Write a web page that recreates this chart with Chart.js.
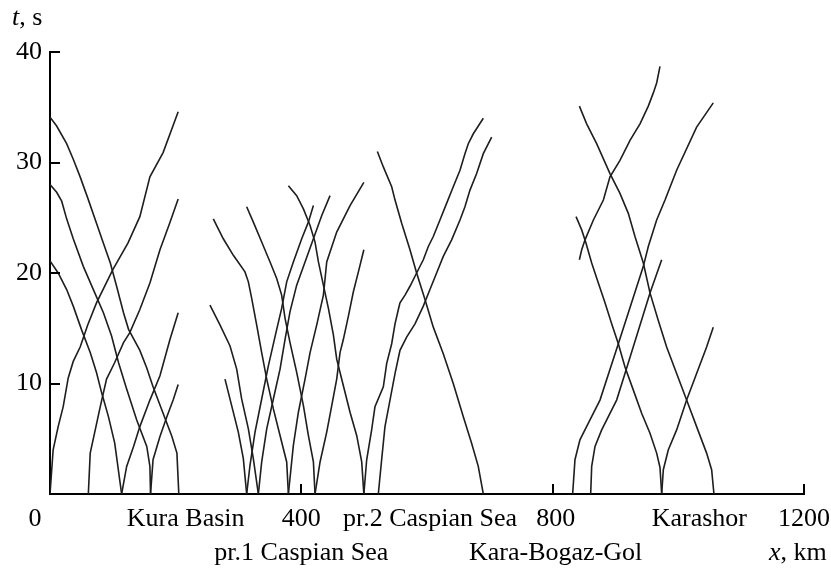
<!DOCTYPE html>
<html>
<head>
<meta charset="utf-8">
<script src="https://cdn.jsdelivr.net/npm/chart.js@4.4.0/dist/chart.umd.min.js"></script>
<style>
  body { margin: 0; background: #fff; }
  canvas { display: block; }
</style>
</head>
<body>
<canvas id="chart" width="831" height="568"></canvas>
<script>
// axis ticks
const xTickValues = [0, 200, 400, 600, 800, 1000, 1200];
const xTickLabels = ['0', 'Kura Basin', '400', 'pr.2 Caspian Sea', '800', 'Karashor', '1200'];
const xSubLabels = ['', '', 'pr.1 Caspian Sea', '', 'Kara-Bogaz-Gol', '', ''];
const xMarkedTicks = [400, 800, 1200];
const yTickValues = [10, 20, 30, 40];

// travel-time curves [x km, t s]
// Kura Basin
const kuraDown1 = [[0,34.1],[10.6,33.3],[26.5,31.7],[37,30.3],[48,28.7],[60,26.8],[74,24.5],[85,22.7],[96,20.9],[106,18.8],[117,16.4],[125,14.9],[143,13.0],[154,11.4],[164,9.7],[180,7.3],[194,5.2],[202,3.7],[205,0]];
const kuraDown2 = [[0,28.0],[10.6,27.3],[18.6,26.5],[26.5,24.9],[37,23.1],[53,20.6],[69,18.5],[85,16.4],[98,14.3],[109,11.9],[122,9.5],[138,6.7],[154,4.3],[159,2.5],[160,0]];
const kuraDown3 = [[0,21.1],[13,20.0],[26.5,18.5],[37,17.0],[50,14.9],[64,12.8],[74,11.0],[82,9.2],[93,7.0],[103,4.6],[114,0]];
const kuraUp1 = [[0,0],[5,4.0],[13,6.1],[21,7.9],[29,10.5],[37,12.0],[48,13.3],[60,15.3],[74,17.3],[100,20.3],[124,22.7],[143,25.1],[159,28.7],[180,30.9],[204,34.6]];
const kuraUp2 = [[61,0],[64,3.7],[72,5.8],[80,7.9],[90,10.4],[103,11.9],[117,13.7],[127,14.6],[143,16.7],[159,19.1],[175,22.1],[191,24.6],[204,26.7]];
const kuraUp3 = [[114,0],[122,2.5],[133,4.3],[143,6.1],[159,8.5],[175,10.7],[191,14.0],[204,16.4]];
const kuraUp4 = [[160,0],[164,3.1],[175,5.2],[186,7.0],[196,8.5],[204,9.9]];

// pr.1 Caspian Sea
const pr1Down1 = [[254.6,17.1],[270.5,15.3],[286.5,13.4],[297.1,11.3],[305,8.6],[315.7,5.9],[323.6,3.2],[331.6,0]];
const pr1Down2 = [[278.5,10.4],[289.1,8.0],[299.7,5.6],[307.7,3.2],[313,0]];
const pr1Down3 = [[259.9,24.9],[275.8,23.1],[291.8,21.6],[310.3,20.1],[315.7,19.2],[321,17.7],[328.9,15.3],[336.9,12.8],[344.9,10.4],[355.5,7.7],[366.1,5.3],[376.7,2.9],[379.4,0]];
const pr1Down4 = [[313,26.0],[323.6,24.6],[336.9,22.8],[350.2,21.0],[360.8,19.5],[368.7,18.0],[374.1,15.9],[382,13.7],[392.6,11.0],[403.3,8.0],[411.2,5.3],[419.2,2.9],[421.8,0]];
const pr1Down5 = [[379.4,27.9],[392.6,27.0],[403.3,25.8],[413.9,24.3],[421.8,22.8],[427.2,21.0],[435.1,18.9],[443.1,16.8],[451,14.4],[456.3,12.2],[466.9,9.8],[477.5,7.4],[488.1,5.3],[496.1,2.9],[499.5,0]];
const pr1Up1 = [[313,0],[318.3,2.6],[326.3,5.6],[336.9,8.6],[347.5,11.6],[360.8,14.9],[368.7,16.8],[376.7,19.2],[387.3,21.0],[400.6,23.1],[411.2,24.6],[419.2,26.1]];
const pr1Up2 = [[331.6,0],[336.9,2.9],[344.9,5.9],[355.5,8.6],[366.1,11.3],[374.1,14.0],[382,16.5],[392.6,18.9],[405.9,21.0],[419.2,23.1],[432.5,25.2],[445.7,27.0]];
const pr1Up3 = [[379.4,0],[387.3,4.4],[395.3,7.4],[405.9,10.4],[413.9,12.8],[424.5,15.3],[435.1,18.0],[437.8,19.5],[440.4,21.0],[456.3,23.7],[477.5,26.1],[499.5,28.2]];
const pr1Up4 = [[421.8,0],[429.8,2.9],[440.4,5.6],[448.4,8.0],[456.3,10.4],[461.6,12.8],[466.9,14.0],[474.9,16.1],[482.8,18.3],[490.8,20.1],[499.5,22.1]];

// pr.2 Caspian Sea
const pr2Down1 = [[521,31.0],[530.5,29.6],[543.8,27.8],[549.1,26.6],[559.7,24.5],[572.9,22.1],[583.5,20.0],[596.8,17.6],[610,15.1],[625.9,12.7],[641.8,10.0],[657.8,7.0],[671,4.6],[681.6,2.5],[689.6,0]];
const pr2Up1 = [[499.5,0],[504,3.1],[511.9,5.8],[517.2,7.9],[530.5,9.7],[535.8,11.8],[543.8,13.6],[549.1,15.4],[554.4,16.7],[557,17.3],[565,18.0],[572.9,18.8],[583.5,20.0],[594.1,21.2],[602.1,22.4],[610,23.3],[620.6,24.8],[631.2,26.3],[641.8,27.8],[652.5,29.3],[660.4,30.8],[665.7,31.7],[673.7,32.6],[689.6,34.0]];
const pr2Up2 = [[522.5,0],[527.8,3.1],[533.1,6.1],[541.1,8.5],[549.1,10.9],[557,13.0],[567.6,14.2],[580.9,15.4],[594.1,17.0],[604.7,18.5],[615.3,20.0],[625.9,21.5],[639.2,23.0],[652.5,24.8],[660.4,26.0],[668.4,27.5],[679,29.0],[689.6,30.8],[702.9,32.3]];

// Karashor
const karaDown1 = [[842.5,35.1],[854.1,33.5],[870,31.7],[891.2,29.0],[907.1,27.2],[920.4,25.4],[931,23.3],[944.3,20.9],[954.9,18.2],[968.1,15.7],[981.4,13.3],[997.3,10.9],[1013.2,8.5],[1029.1,6.1],[1045,3.7],[1053,2.2],[1056.7,0]];
const karaDown2 = [[837.2,25.1],[846.2,23.9],[853.1,22.7],[862.1,20.9],[872.7,19.1],[883.3,17.3],[893.9,15.4],[904.5,13.6],[915.1,11.5],[928.4,9.4],[941.6,7.3],[954.9,5.5],[965.5,3.7],[970.8,2.4],[973.5,0]];
const karaUp1 = [[831.8,0],[835.5,3.1],[843.4,4.9],[859.4,6.7],[875.3,8.5],[904.5,13.6],[944.3,20.6],[952.2,22.4],[965.5,24.8],[978.8,26.6],[997.3,29.3],[1029.1,33.2],[1055.6,35.4]];
const karaUp2 = [[860.5,0],[862.1,2.5],[867.4,4.3],[878,5.8],[891.2,7.3],[901.8,8.5],[916.7,11.2],[954.9,18.2],[973.5,21.2]];
const karaUp3 = [[842.5,21.2],[846.2,22.1],[851.5,23.0],[864.8,24.8],[880.7,26.6],[891.2,28.7],[907.1,30.2],[923.1,32.0],[939,33.5],[952.2,35.1],[960.2,36.3],[965.5,37.2],[970.8,38.7]];
const karaUp4 = [[973.5,0],[976.1,2.2],[984.1,4.0],[997.3,5.8],[1013.2,8.5],[1029.1,10.9],[1045,13.3],[1055.6,15.1]];

const curves = [
  kuraDown1, kuraDown2, kuraDown3, kuraUp1, kuraUp2, kuraUp3, kuraUp4,
  pr1Down1, pr1Down2, pr1Down3, pr1Down4, pr1Down5, pr1Up1, pr1Up2, pr1Up3, pr1Up4,
  pr2Down1, pr2Up1, pr2Up2,
  karaDown1, karaDown2, karaUp1, karaUp2, karaUp3, karaUp4
];

const FONT_FAMILY = '"Liberation Serif", "DejaVu Serif", serif';
const FONT_SIZE = 26;
// small horizontal nudges of the x labels, as placed in the original figure
const xLabelShift = [-15, 10, 0, 3, 3, 21, 0];

const axisDecor = {
  id: 'axisDecor',
  afterDraw(chart) {
    const { ctx, scales: { x, y } } = chart;
    ctx.save();
    // inward tick marks
    ctx.strokeStyle = '#000';
    ctx.lineWidth = 2;
    ctx.beginPath();
    yTickValues.forEach(v => {
      const py = Math.round(y.getPixelForValue(v));
      ctx.moveTo(x.left, py);
      ctx.lineTo(x.left + 10, py);
    });
    xMarkedTicks.forEach(v => {
      const px = Math.round(x.getPixelForValue(v));
      ctx.moveTo(px, y.bottom);
      ctx.lineTo(px, y.bottom - 10);
    });
    ctx.stroke();

    // x labels, two rows
    ctx.fillStyle = '#000';
    ctx.font = `${FONT_SIZE}px ${FONT_FAMILY}`;
    ctx.textAlign = 'center';
    ctx.textBaseline = 'alphabetic';
    xTickValues.forEach((v, i) => {
      const px = x.getPixelForValue(v) + xLabelShift[i];
      ctx.fillText(xTickLabels[i], px, y.bottom + 32);
      if (xSubLabels[i]) ctx.fillText(xSubLabels[i], px, y.bottom + 66);
    });

    // axis titles with italic variable
    ctx.textAlign = 'left';
    const title = (varName, rest, tx, ty) => {
      ctx.font = `italic ${FONT_SIZE}px ${FONT_FAMILY}`;
      ctx.fillText(varName, tx, ty);
      const w = ctx.measureText(varName).width;
      ctx.font = `${FONT_SIZE}px ${FONT_FAMILY}`;
      ctx.fillText(rest, tx + w, ty);
    };
    title('t', ', s', 12, 25);
    title('x', ', km', 769, y.bottom + 66);
    ctx.restore();
  }
};

new Chart(document.getElementById('chart'), {
  type: 'scatter',
  data: {
    datasets: curves.map(c => ({
      data: c.map(([px, t]) => ({ x: px, y: t })),
      showLine: true,
      borderColor: '#1e1e1e',
      borderWidth: 1.6,
      pointRadius: 0,
      fill: false,
      tension: 0
    }))
  },
  options: {
    responsive: false,
    animation: false,
    layout: { padding: { top: 52, right: 27, left: 0, bottom: 0 } },
    plugins: { legend: { display: false }, tooltip: { enabled: false } },
    scales: {
      x: {
        type: 'linear',
        min: 0,
        max: 1200,
        grid: { display: false, drawTicks: false },
        border: { display: true, color: '#000', width: 2 },
        ticks: { display: false },
        afterFit: s => { s.height = 74; }
      },
      y: {
        type: 'linear',
        min: 0,
        max: 40,
        grid: { display: false, drawTicks: false },
        border: { display: true, color: '#000', width: 2 },
        ticks: {
          stepSize: 10,
          padding: 8,
          color: '#000',
          font: { family: FONT_FAMILY, size: FONT_SIZE },
          callback: v => (v === 0 ? '' : v)
        },
        afterFit: s => { s.width = 50; }
      }
    }
  },
  plugins: [axisDecor]
});
</script>
</body>
</html>
